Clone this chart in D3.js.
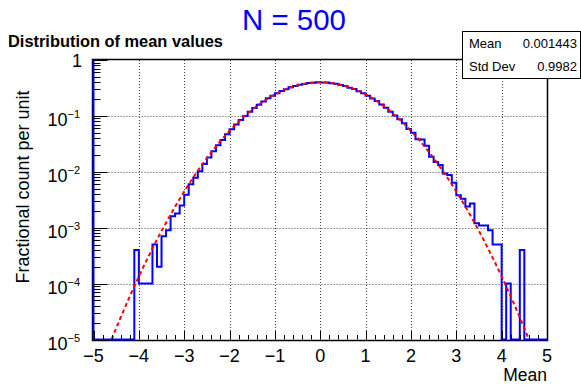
<!DOCTYPE html>
<html><head><meta charset="utf-8">
<script src="https://cdn.jsdelivr.net/npm/d3@7"></script>
<style>
body{margin:0;background:#fff}
svg{display:block}
text{font-family:"Liberation Sans",Arial,Helvetica,sans-serif;fill:#000}
</style>
</head><body>
<svg id="c" width="581" height="385"></svg>
<script>
// ---------------- data ----------------
const binLow = -5, binHigh = 5, binWidth = 0.1;
// fractional count per unit in each 0.1-wide bin, from -5.0 to 5.0
const binValues = [
  0, 0, 0, 0, 0, 0, 0, 0, 0, 0.0004,
  0.0001, 0.0001, 0.0001, 0.0005, 0.0002, 0.0007, 0.0009, 0.0016, 0.0018, 0.0025,
  0.0039, 0.0060, 0.0078, 0.0102, 0.0138, 0.0180, 0.0232, 0.0298, 0.0372, 0.0470,
  0.0575, 0.0700, 0.0845, 0.1000, 0.1185, 0.1385, 0.1590, 0.1815, 0.2060, 0.2290,
  0.2535, 0.2790, 0.3000, 0.3240, 0.3420, 0.3620, 0.3730, 0.3880, 0.3930, 0.3990,
  0.3975, 0.3955, 0.3850, 0.3760, 0.3580, 0.3440, 0.3200, 0.3030, 0.2760, 0.2550,
  0.2300, 0.2050, 0.1840, 0.1600, 0.1400, 0.1190, 0.1020, 0.0870, 0.0740, 0.0585,
  0.0500, 0.0384, 0.0378, 0.0293, 0.0185, 0.0150, 0.0132, 0.0093, 0.0088, 0.0064,
  0.0038, 0.0033, 0.0024, 0.0027, 0.0012, 0.0011, 0.0011, 0.0009, 0.0005, 0.0005,
  0, 0.0001, 0, 0, 0.0004, 0, 0, 0, 0, 0
];
// red dashed fit curve
const fitX = [-4.6,-4.4,-4.2,-4.0,-3.8,-3.6,-3.4,-3.2,-3.0,-2.8,-2.6,-2.4,-2.2,-2.0,-1.8,-1.6,-1.4,-1.2,-1.0,-0.8,-0.6,-0.4,-0.2,
  0.0,0.2,0.4,0.6,0.8,1.0,1.2,1.4,1.6,1.8,2.0,2.2,2.4,2.6,2.8,3.0,3.2,3.4,3.6,3.8,4.0,4.2,4.4,4.6];
const fitY = [1.01e-5,2.49e-5,5.89e-5,1.34e-4,2.92e-4,6.12e-4,1.23e-3,2.38e-3,4.43e-3,7.92e-3,0.0136,0.0224,0.0355,0.0540,0.0790,0.1109,0.1497,0.1942,0.2420,0.2897,0.3332,0.3683,0.3910,
  0.3989,0.3910,0.3683,0.3332,0.2897,0.2420,0.1942,0.1497,0.1109,0.0790,0.0540,0.0355,0.0224,0.0136,7.92e-3,4.43e-3,2.38e-3,1.23e-3,6.12e-4,2.92e-4,1.34e-4,5.89e-5,2.49e-5,1.01e-5];
const xTickValues = [-5,-4,-3,-2,-1,0,1,2,3,4,5];
const xTickLabels = ["\u22125","\u22124","\u22123","\u22122","\u22121","0","1","2","3","4","5"];
const yDecades = [1e-5,1e-4,1e-3,1e-2,1e-1,1];
const yTickBase = ["10","10","10","10","10","1"];
const yTickExp = ["\u22125","\u22124","\u22123","\u22122","\u22121",""];
const statLabels = ["Mean","Std Dev"];
const statValues = ["0.001443","0.9982"];
const mainTitle = "N = 500";
const histTitle = "Distribution of mean values";
const xTitle = "Mean";
const yTitle = "Fractional count per unit";

// ---------------- drawing ----------------
const svg = d3.select("#c");
const L = 93.5, R = 547, T = 60, B = 339.5;
const x = d3.scaleLinear().domain([binLow, binHigh]).range([L, R]);
const y = d3.scaleLog().domain([1e-5, 1]).range([B, T]);

svg.append("defs").append("clipPath").attr("id","fr")
  .append("rect").attr("x",L).attr("y",T).attr("width",R-L).attr("height",B-T);

// grid
const grid = svg.append("g").attr("stroke","#444").attr("stroke-width",1).attr("stroke-dasharray","1,2");
xTickValues.slice(1,-1).forEach(v=>{
  grid.append("line").attr("x1",Math.round(x(v))+0.5).attr("x2",Math.round(x(v))+0.5).attr("y1",T).attr("y2",B);
});
yDecades.slice(1,-1).forEach(v=>{
  grid.append("line").attr("y1",Math.round(y(v))+0.5).attr("y2",Math.round(y(v))+0.5).attr("x1",L).attr("x2",R);
});

// frame
svg.append("rect").attr("x",92.5).attr("y",59.5).attr("width",455).attr("height",281)
  .attr("fill","none").attr("stroke","#000").attr("stroke-width",1.5);

// histogram
const yMin = y.domain()[0];
const pts = [[x(binLow), y(1)]];
binValues.forEach((v,i)=>{
  const lo = binLow + i*binWidth, hi = lo + binWidth;
  const vv = Math.max(v, yMin);
  pts.push([x(lo), y(vv)]);
  pts.push([x(hi), y(vv)]);
});
svg.append("path").attr("d", d3.line()(pts))
  .attr("fill","none").attr("stroke","#0000ff").attr("stroke-width",2).attr("stroke-linejoin","miter");

// fit
const fitPts = fitX.map((v,i)=>[v, fitY[i]]);
svg.append("path").attr("clip-path","url(#fr)")
  .attr("d", d3.line().x(d=>x(d[0])).y(d=>y(d[1])).curve(d3.curveNatural)(fitPts))
  .attr("fill","none").attr("stroke","#ff0000").attr("stroke-width",2).attr("stroke-dasharray","4,3");

// x axis ticks (inside)
const ax = svg.append("g").attr("stroke","#000").attr("stroke-width",1);
const xMinor = d3.range(-5, 5.0001, 0.2);
xMinor.forEach(v=>{
  const isMajor = Math.abs(v - Math.round(v)) < 1e-6;
  const px = Math.round(x(v))+0.5;
  ax.append("line").attr("x1",px).attr("x2",px).attr("y1",B).attr("y2",B-(isMajor?8.5:4.5));
});
// y axis ticks (inside)
yDecades.forEach((d,i)=>{
  const py = Math.round(y(d))+0.5;
  ax.append("line").attr("x1",L).attr("x2",L+14).attr("y1",py).attr("y2",py);
  if (i < yDecades.length-1) {
    for (let k=2;k<=9;k++){
      const pm = Math.round(y(d*k))+0.5;
      ax.append("line").attr("x1",L).attr("x2",L+7).attr("y1",pm).attr("y2",pm);
    }
  }
});

// x tick labels
xTickValues.forEach((v,i)=>{
  svg.append("text").attr("x",x(v)).attr("y",361.5).attr("text-anchor","middle")
    .attr("font-size",18).text(xTickLabels[i]);
});
// y tick labels
yDecades.forEach((d,i)=>{
  const t = svg.append("text").attr("text-anchor","end").attr("font-size",18);
  if (yTickExp[i]) {
    t.attr("x",80).attr("y",y(d)+10).text(yTickBase[i]);
    t.append("tspan").attr("dy",-8).attr("font-size",11).text(yTickExp[i]);
  } else {
    t.attr("x",82).attr("y",y(d)+7).text(yTickBase[i]);
  }
});

// axis titles
svg.append("text").attr("x",547).attr("y",381).attr("text-anchor","end").attr("font-size",17.5).text(xTitle);
svg.append("text").attr("transform","translate(29,187) rotate(-90)").attr("text-anchor","middle")
  .attr("font-size",18).text(yTitle);

// titles
svg.append("text").attr("x",242).attr("y",30).attr("font-size",30).attr("textLength",104)
  .attr("lengthAdjust","spacingAndGlyphs").style("fill","#0000ff").text(mainTitle);
svg.append("text").attr("x",8).attr("y",47).attr("font-size",16.4).attr("font-weight","bold").text(histTitle);

// stat box
svg.append("rect").attr("x",462.5).attr("y",31.5).attr("width",118).attr("height",47)
  .attr("fill","#fff").attr("stroke","#000").attr("stroke-width",1);
statLabels.forEach((s,i)=>{
  svg.append("text").attr("x",469).attr("y",48+i*23).attr("font-size",13).text(s);
  svg.append("text").attr("x",577).attr("y",48+i*23).attr("text-anchor","end").attr("font-size",13).text(statValues[i]);
});
</script>
</body></html>
